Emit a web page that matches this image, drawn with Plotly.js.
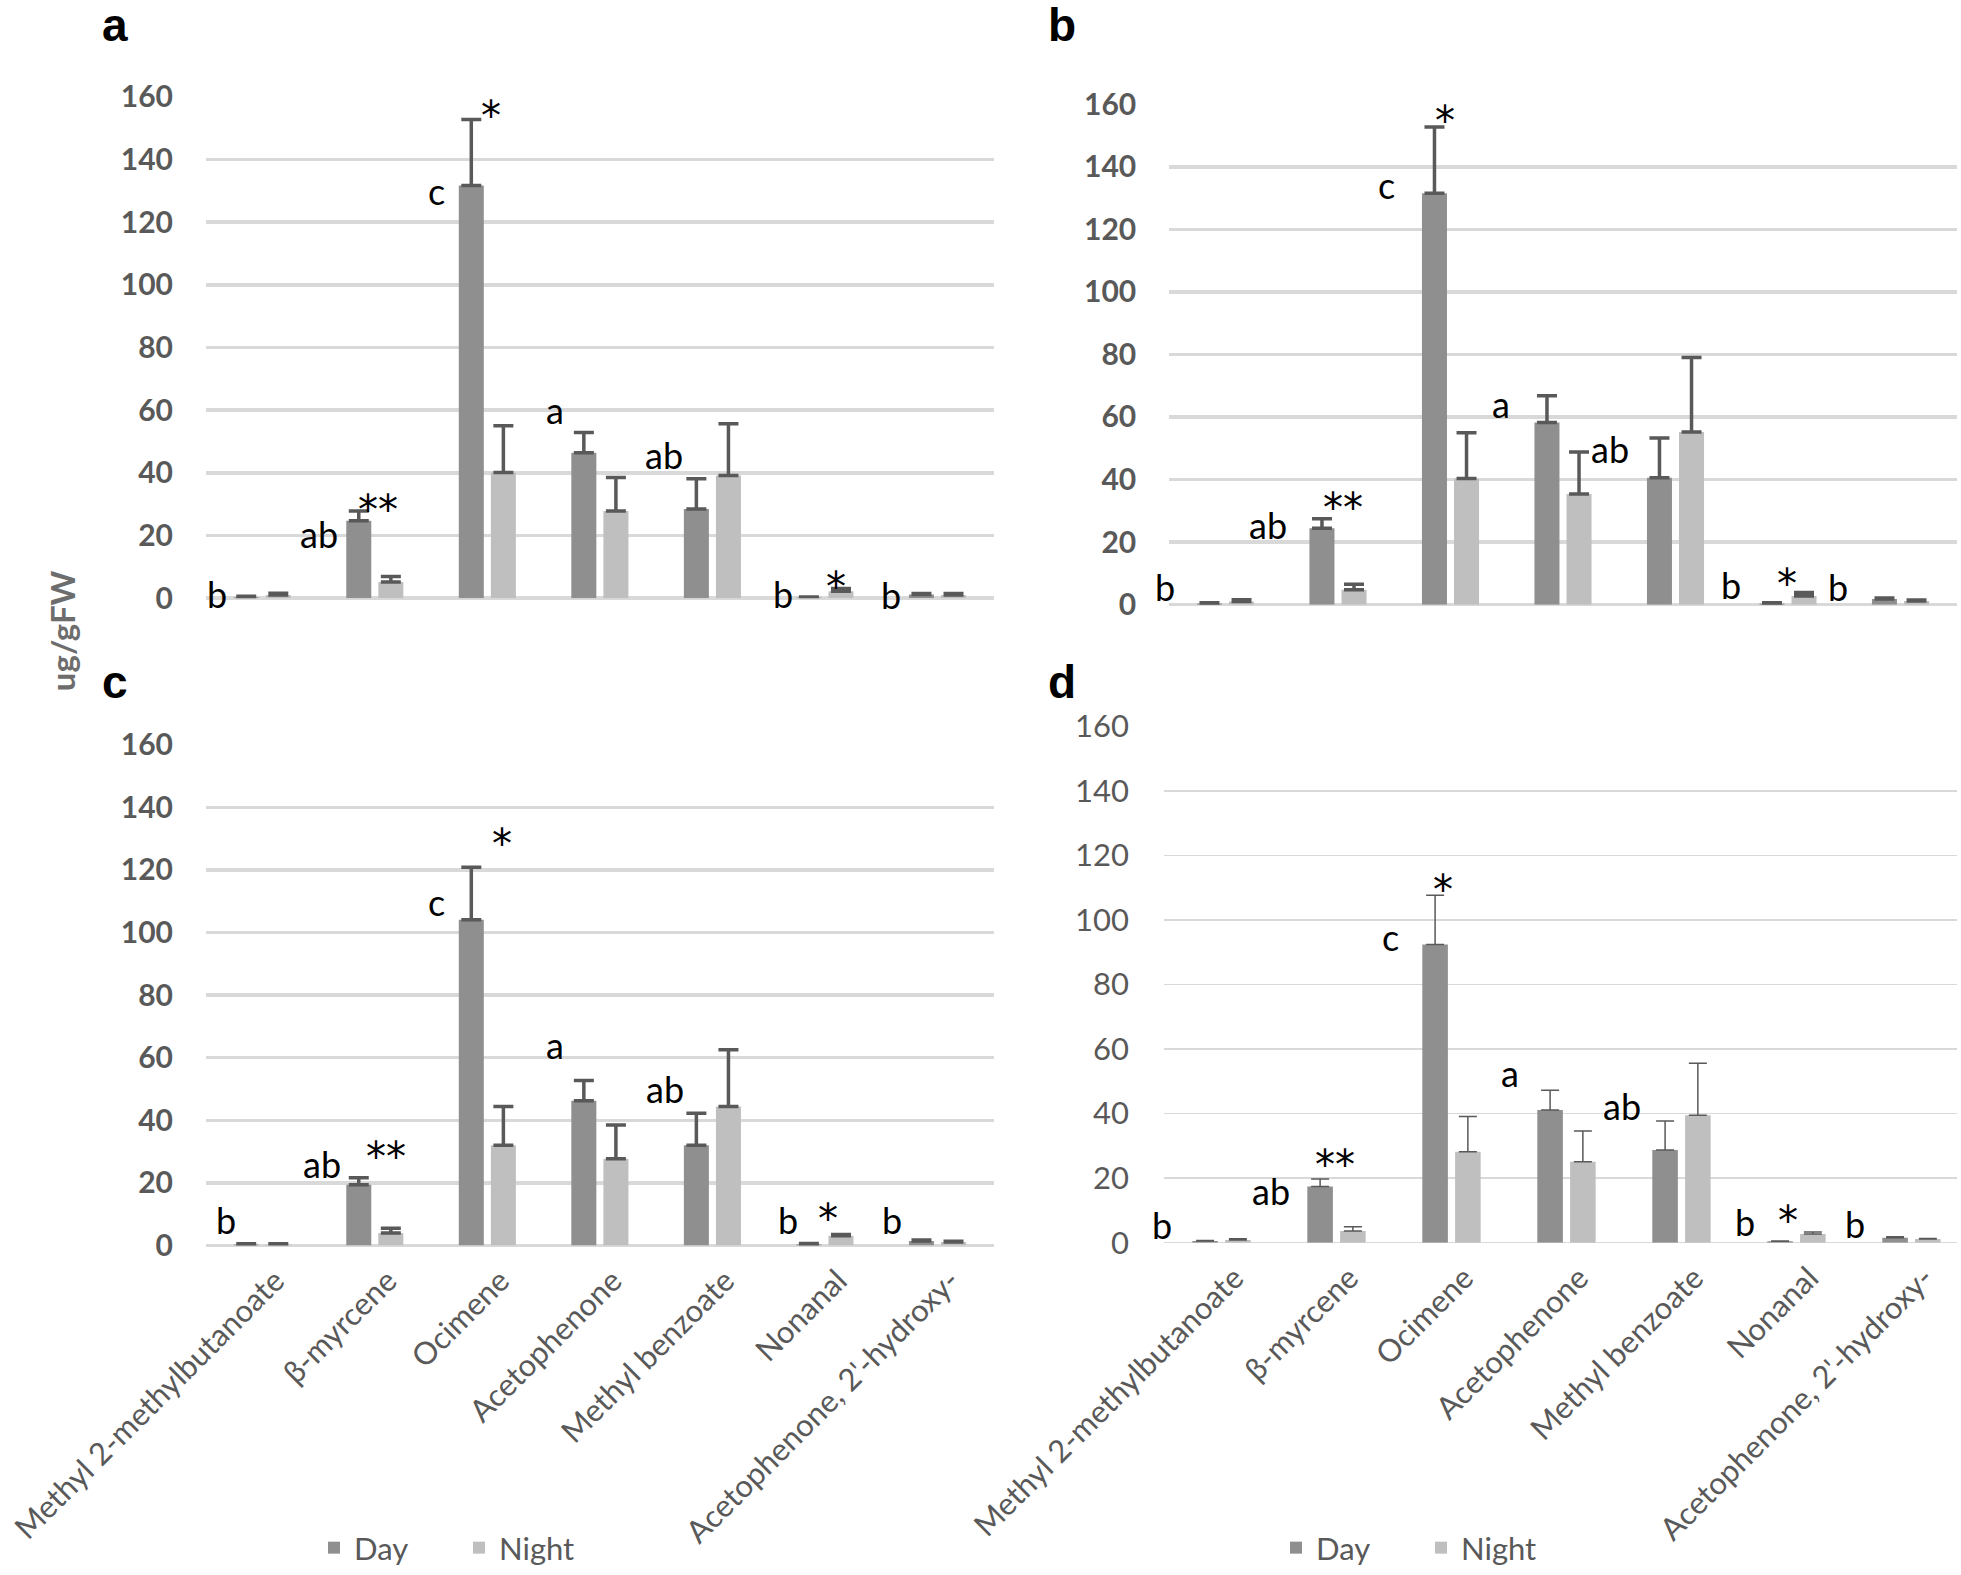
<!DOCTYPE html>
<html>
<head>
<meta charset="utf-8">
<script src="https://cdn.plot.ly/plotly-3.0.1.min.js"></script>
<style>html,body{margin:0;padding:0;background:#fff;}#chart{width:1961px;height:1575px;}</style>
</head>
<body>
<div id="chart"></div>
<script>
// ---------- data ----------
const categories = ["Methyl 2-methylbutanoate", "β-myrcene", "Ocimene", "Acetophenone", "Methyl benzoate", "Nonanal", "Acetophenone, 2'-hydroxy-"];
const seriesNames = ["Day", "Night"];
const yTicks = [0, 20, 40, 60, 80, 100, 120, 140, 160];

// panel a
const dayA      = [0.3, 24.7, 131.7, 46.4, 28.5, 0.2, 1.2];
const dayErrA   = [0.3, 3.1, 21.1, 6.5, 9.6, 0.2, 0.3];
const nightA    = [1.0, 5.2, 40.1, 27.8, 39.2, 2.2, 1.0];
const nightErrA = [0.6, 1.7, 14.9, 10.7, 16.5, 0.9, 0.5];
// panel b
const dayB      = [0.4, 24.4, 131.5, 58.2, 40.6, 0.4, 1.8];
const dayErrB   = [0.2, 3.1, 21.2, 8.6, 12.7, 0.2, 0.3];
const nightB    = [1.0, 4.8, 40.3, 35.4, 55.2, 2.8, 1.2];
const nightErrB = [0.6, 1.7, 14.7, 13.4, 23.8, 1.1, 0.3];
// panel c
const dayC      = [0.3, 19.4, 104.1, 46.2, 32.0, 0.4, 1.4];
const dayErrC   = [0.2, 2.2, 16.7, 6.5, 10.2, 0.2, 0.3];
const nightC    = [0.3, 4.0, 32.0, 27.7, 44.4, 3.1, 1.1];
const nightErrC = [0.2, 1.5, 12.4, 10.8, 18.1, 0.4, 0.2];
// panel d
const dayD      = [0.5, 17.4, 92.4, 41.1, 28.7, 0.4, 1.5];
const dayErrD   = [0.2, 2.3, 15.2, 6.1, 9.0, 0.1, 0.3];
const nightD    = [0.8, 3.6, 28.2, 25.1, 39.5, 2.7, 1.1];
const nightErrD = [0.4, 1.3, 10.9, 9.5, 16.1, 0.6, 0.2];

// significance labels (text, category position, value position)
const sigText = ["b", "ab", "**", "c", "*", "a", "ab", "b", "*", "b"];
const sigXA = [-0.40, 0.50, 1.03, 1.55, 2.03, 2.60, 3.57, 4.63, 5.10, 5.59];
const sigYA = [1.5, 20.5, 31.0, 128.5, 156.7, 58.6, 45.6, 1.5, 6.3, 0.9];
const sigXB = [-0.54, 0.38, 1.04, 1.43, 1.95, 2.45, 3.42, 4.49, 4.99, 5.44];
const sigYB = [5.5, 25.5, 33.7, 132.7, 157.4, 62.6, 49.9, 6.2, 9.6, 5.5];
const sigXC = [-0.32, 0.53, 1.10, 1.55, 2.13, 2.60, 3.58, 4.67, 5.03, 5.60];
const sigYC = [8.2, 25.9, 31.1, 108.2, 131.3, 62.3, 49.9, 8.2, 11.4, 8.2];
const sigXD = [-0.52, 0.43, 0.99, 1.47, 1.93, 2.51, 3.48, 4.55, 4.93, 5.51];
const sigYD = [5.4, 16.1, 26.9, 93.3, 112.1, 51.1, 42.2, 6.3, 9.6, 5.9];

const panelLetters = ["a", "b", "c", "d"];
const yTitle = "ug/gFW";

// ---------- styling ----------
const W = 1961, H = 1575;
const DAY = "#8f8f8f", NIGHT = "#bfbfbf", ERR = "#595959", GRID = "#d9d9d9", TXT = "#595959";
const FONT = "Lato, 'Open Sans', sans-serif";

const panels = [
  {ax: "", day: dayA, dayErr: dayErrA, night: nightA, nightErr: nightErrA, sx: sigXA, sy: sigYA,
   xdom: [206/W, 993.75/W], xr: [-0.5, 6.5], ydom: [1-602.8/H, 1-97.6/H], bold: true, labels: false, legend: null,
   letter: [115, 25.5]},
  {ax: "2", day: dayB, dayErr: dayErrB, night: nightB, nightErr: nightErrB, sx: sigXB, sy: sigYB,
   xdom: [1169.25/W, 1956.75/W], xr: [-0.5, 6.5], ydom: [1-609.3/H, 1-105/H], bold: true, labels: false, legend: null,
   letter: [1062, 25.5]},
  {ax: "3", day: dayC, dayErr: dayErrC, night: nightC, nightErr: nightErrC, sx: sigXC, sy: sigYC,
   xdom: [206/W, 993.75/W], xr: [-0.5, 6.5], ydom: [1-1255/H, 1-750.4/H], bold: true, labels: true, legend: "legend",
   letter: [115, 687]},
  {ax: "4", day: dayD, dayErr: dayErrD, night: nightD, nightErr: nightErrD, sx: sigXD, sy: sigYD,
   xdom: [1164/W, 1957/W], xr: [-0.5, 6.396], ydom: [1-1252.2/H, 1-731.8/H], bold: false, labels: true, legend: "legend2",
   letter: [1062, 687]}
];

const traces = [];
const legendCommon = {orientation: "h", xanchor: "left", y: 1-1560/H, yanchor: "middle",
           font: {family: FONT, size: 31, color: TXT}, bgcolor: "rgba(0,0,0,0)",
           entrywidth: 100, entrywidthmode: "pixels", traceorder: "normal"};
const layout = {
  width: W, height: H, autosize: false,
  margin: {l: 0, r: 0, t: 0, b: 0, pad: 0},
  paper_bgcolor: "#fff", plot_bgcolor: "rgba(0,0,0,0)",
  barmode: "group", bargap: 0.43, bargroupgap: 0.22,
  font: {family: FONT, color: TXT},
  annotations: [], showlegend: true,
  legend: Object.assign({}, legendCommon, {x: 314/W}),
  legend2: Object.assign({}, legendCommon, {x: 1276/W})
};

panels.forEach((p, i) => {
  const xa = "x" + p.ax, ya = "y" + p.ax;
  const thick = p.bold ? 3.5 : 1.5;
  const capw = p.bold ? 10 : 9;
  const gw = p.bold ? 3.5 : 1.6;
  const pxPerCat = (p.xdom[1] - p.xdom[0]) * W / (p.xr[1] - p.xr[0]);
  const series = [[p.day, p.dayErr, DAY], [p.night, p.nightErr, NIGHT]];
  series.forEach((s, k) => {
    const t = {
      type: "bar", x: categories, y: s[0], name: seriesNames[k],
      xaxis: xa, yaxis: ya,
      marker: {color: s[2], line: {width: 0}},
      error_y: {type: "data", symmetric: false, array: s[1], arrayminus: s[1].map(() => 0),
                color: ERR, thickness: thick, width: capw, visible: true},
      showlegend: !!p.legend, hoverinfo: "skip"
    };
    if (p.legend) t.legend = p.legend;
    traces.push(t);
  });
  layout["xaxis" + p.ax] = {
    domain: p.xdom, anchor: ya, type: "category", range: p.xr,
    categoryorder: "array", categoryarray: categories,
    showgrid: false, zeroline: false, showline: false, ticks: "",
    showticklabels: p.labels, tickangle: -45,
    ticklabelshift: 13, ticklabelstandoff: 10,
    tickfont: {family: FONT, size: 31, color: TXT}
  };
  layout["yaxis" + p.ax] = {
    domain: p.ydom, anchor: xa, range: [0, 160],
    tickmode: "array", tickvals: yTicks, ticktext: yTicks.map(String),
    showgrid: true, gridcolor: GRID, gridwidth: gw,
    zeroline: true, zerolinecolor: GRID, zerolinewidth: gw,
    showline: false, ticks: "", ticklabelstandoff: p.bold ? 32 : 34,
    tickfont: {family: FONT, size: p.bold ? 30 : 31, color: TXT, weight: p.bold ? "bold" : "normal"}
  };
  sigText.forEach((txt, j) => {
    const isStar = txt.indexOf("*") >= 0;
    const hasAsc = /[bd]/.test(txt);
    let x = p.sx[j], xshift = 0;
    if (x < p.xr[0]) { xshift = (x - p.xr[0]) * pxPerCat; x = p.xr[0]; }
    layout.annotations.push({
      xref: xa, yref: ya, x: x, y: p.sy[j], text: txt, showarrow: false,
      xanchor: "center", yanchor: "middle", xshift: xshift,
      yshift: isStar ? -9 : (hasAsc ? 0 : 5),
      font: isStar ? {family: "'DejaVu Sans', sans-serif", size: 40, color: "#000"}
                   : {family: FONT, size: 36, color: "#000"}
    });
  });
  layout.annotations.push({
    xref: "paper", yref: "paper", x: p.letter[0]/W, y: 1 - p.letter[1]/H,
    text: panelLetters[i], showarrow: false, xanchor: "center", yanchor: "middle",
    font: {family: "'Liberation Sans', Arial, sans-serif", size: 46, color: "#000", weight: "bold"}
  });
});

layout.annotations.push({
  xref: "paper", yref: "paper", x: 62/W, y: 1 - 636/H, text: yTitle, showarrow: false,
  textangle: -90, xanchor: "center", yanchor: "middle",
  font: {family: FONT, size: 33, color: "#6d6d6d", weight: "bold"}
});

Plotly.newPlot("chart", traces, layout, {staticPlot: true, displayModeBar: false});
</script>
</body>
</html>
